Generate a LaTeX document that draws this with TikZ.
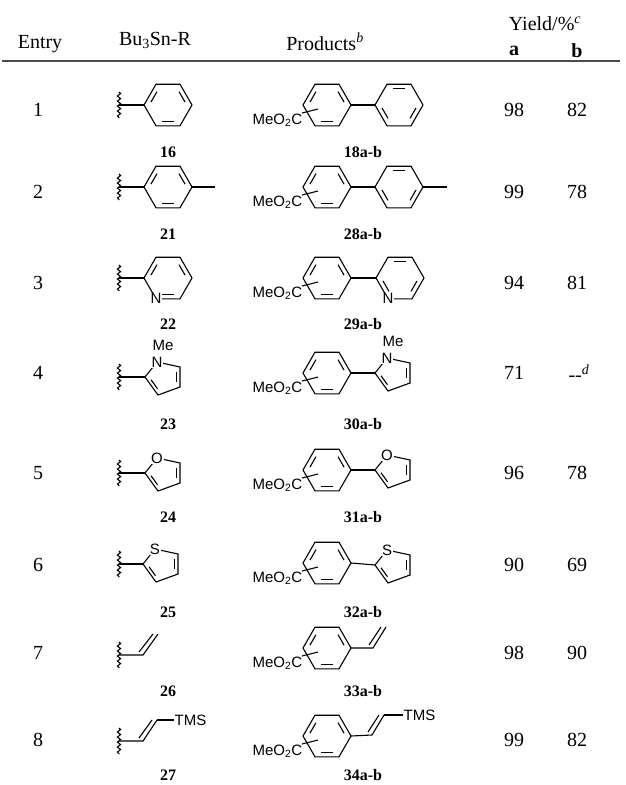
\documentclass[tikz,border=0pt]{standalone}
\usepackage{fontspec}
\setmainfont{Liberation Serif}
\newfontfamily\chemf{Liberation Sans}
\usetikzlibrary{calc,decorations.pathmorphing}
\tikzset{bond/.style={line width=1.1pt,line join=miter},
 wavy/.style={line width=1.1pt,decorate,decoration={snake,amplitude=1.6pt,segment length=5pt}},
 hdr/.style={font=\fontsize{20}{20}\selectfont},
 num/.style={font=\fontsize{20}{20}\selectfont},
 lab/.style={font=\fontsize{16}{16}\selectfont\bfseries},
 chem/.style={font=\chemf\fontsize{15}{15}\selectfont,inner sep=0.5pt},
 het/.style={font=\chemf\fontsize{15}{15}\selectfont,fill=white,inner sep=0.8pt}}
\newcommand\hexat[2]{%
 \coordinate (#1) at (#2);
 \path (#1) +(24,0) coordinate (#1R) +(12,-20.8) coordinate (#1TR) +(-12,-20.8) coordinate (#1TL)
  +(-24,0) coordinate (#1L) +(-12,20.8) coordinate (#1BL) +(12,20.8) coordinate (#1BR);
 \draw[bond] (#1R)--(#1TR)--(#1TL)--(#1L)--(#1BL)--(#1BR)--cycle;}
\newcommand\inb[3]{\draw[bond] ($(#1)!0.78!($(#2)!0.18!(#3)$)$) -- ($(#1)!0.78!($(#3)!0.18!(#2)$)$);}
\newcommand\patA[1]{\inb{#1}{#1L}{#1TL}\inb{#1}{#1TR}{#1R}\inb{#1}{#1BR}{#1BL}}
\newcommand\patB[1]{\inb{#1}{#1TL}{#1TR}\inb{#1}{#1R}{#1BR}\inb{#1}{#1BL}{#1L}}
\newcommand\prodring[2]{%
 \hexat{#1}{327,#2}\patA{#1}
 \node[chem,anchor=east] (#1me) at ($(#1)+(-24,15)$) {MeO\textsubscript{2}C};
 \draw[bond] ($(#1)+(-25,8)$) coordinate (#1s1) -- ($(#1)+(-9,4)$) coordinate (#1s2);}
\newcommand\fivering[3]{%
 \coordinate (#12) at (#2);
 \path (#12) +(12,-15) coordinate (#1X) +(35,-10) coordinate (#15) +(35,10) coordinate (#14)
  +(13,18) coordinate (#13) +(19,1) coordinate (#1c);
 \draw[bond] (#12)--(#1X)--(#15)--(#14)--(#13)--cycle;
 \inb{#1c}{#12}{#13}\inb{#1c}{#14}{#15}
 \node[het] (#1Xt) at (#1X) {#3};}
\newcommand\wav[2]{%
 \draw[wavy] (119,#2-13) coordinate (#1a) -- (119,#2+13) coordinate (#1b);
 \coordinate (#1w) at (119,#2);}
\begin{document}
\begin{tikzpicture}[x=1pt,y=-1pt]
\useasboundingbox (0,0) rectangle (626,785);
% header
\node[hdr] (hE) at (40,44) {Entry};
\node[hdr] (hB) at (155,40) {Bu\textsubscript{3}Sn-R};
\node[hdr] (hP) at (325,42) {Products\textsuperscript{\textit{b}}};
\node[hdr] (hY) at (545,24) {Yield/\%\textsuperscript{\textit{c}}};
\node[hdr,font=\fontsize{20}{20}\selectfont\bfseries] (ha) at (514,51) {a};
\node[hdr,font=\fontsize{20}{20}\selectfont\bfseries] (hb) at (577,51) {b};
\coordinate (r1) at (2,61); \coordinate (r2) at (620,61);
\draw[line width=1.6pt,black!70] (r1) -- (r2);
% entries and yields
\foreach \e/\y/\a/\b in {1/110/98/82,2/192/99/78,3/283/94/81,4/373/71/x,5/473/96/78,6/565/90/69,7/653/98/90,8/740/99/82}{
 \node[num] (e\e) at (38,\y) {\e};
 \node[num] (ya\e) at (514,\y) {\a};
 \if x\b \node[num] (yb\e) at (579,\y) {-{}-\textsuperscript{\textit{d}}};
 \else \node[num] (yb\e) at (577,\y) {\b};\fi}
% labels
\foreach \n/\l/\p/\y in {1/16/18/152,2/21/28/234,3/22/29/324,4/23/30/424,5/24/31/517,6/25/32/612,7/26/33/691,8/27/34/775}{
 \node[lab] (L\n) at (168,\y) {\l};
 \node[lab] (P\n) at (363,\y) {\p a-b};}
% row 1
\wav{w1}{105}\hexat{s1}{168,105}\patA{s1}\draw[bond] (w1w)--(s1L);
\prodring{p1}{105}\hexat{q1}{399,105}\patB{q1}\draw[bond] (p1R)--(q1L);
% row 2
\wav{w2}{187}\hexat{s2}{168,187}\patA{s2}\draw[bond] (w2w)--(s2L);
\coordinate (m2) at (215,187);\draw[bond] (s2R)--(m2);
\prodring{p2}{187}\hexat{q2}{399,187}\patB{q2}\draw[bond] (p2R)--(q2L);
\coordinate (n2) at (447,187);\draw[bond] (q2R)--(n2);
% row 3
\wav{w3}{278}\hexat{s3}{168,278}\patA{s3}\draw[bond] (w3w)--(s3L);
\node[het] (s3N) at (s3BL) {N};
\prodring{p3}{278}\hexat{q3}{400,278}\patB{q3}\draw[bond] (p3R)--(q3L);
\node[het] (q3N) at (q3BL) {N};
% row 4
\wav{w4}{377}\fivering{s4}{145,377}{N}\draw[bond] (w4w)--(s42);
\node[chem] (s4me) at ($(s4X)+(6,-17)$) {Me};
\prodring{p4}{373}\fivering{q4}{375,373}{N}\draw[bond] (p4R)--(q42);
\node[chem] (q4me) at ($(q4X)+(6,-17)$) {Me};
% row 5
\wav{w5}{473}\fivering{s5}{145,473}{O}\draw[bond] (w5w)--(s52);
\prodring{p5}{470}\fivering{q5}{375,470}{O}\draw[bond] (p5R)--(q52);
% row 6
\wav{w6}{564}\fivering{s6}{143,564}{S}\draw[bond] (w6w)--(s62);
\prodring{p6}{563}\fivering{q6}{375,565}{S}\draw[bond] (p6R)--(q62);
% row 7
\wav{w7}{655}\coordinate (v7a) at (143,655);\coordinate (v7b) at (158,634);
\draw[bond] (w7w)--(v7a)--(v7b);\draw[bond] ($(v7a)+(-4,-3)$)--($(v7b)+(-5,0)$);
\prodring{p7}{648}\coordinate (u7a) at (373,648);\coordinate (u7b) at (386,627);
\draw[bond] (p7R)--(u7a)--(u7b);\draw[bond] ($(u7a)+(-4,-3)$)--($(u7b)+(-5,0)$);
% row 8
\wav{w8}{741}\coordinate (v8a) at (143,741);\coordinate (v8b) at (157,720);
\draw[bond] (w8w)--(v8a)--(v8b);\draw[bond] ($(v8a)+(-4,-3)$)--($(v8b)+(-5,0)$);
\node[chem,anchor=west] (t8) at (174,720) {TMS};\draw[bond] (v8b)--(t8.west);
\prodring{p8}{736}\coordinate (u8a) at (372,735);\coordinate (u8b) at (384,715);
\draw[bond] (p8R)--(u8a)--(u8b);\draw[bond] ($(u8a)+(-4,-3)$)--($(u8b)+(-5,0)$);
\node[chem,anchor=west] (t8p) at (403,715) {TMS};\draw[bond] (u8b)--(t8p.west);
\end{tikzpicture}
\end{document}
